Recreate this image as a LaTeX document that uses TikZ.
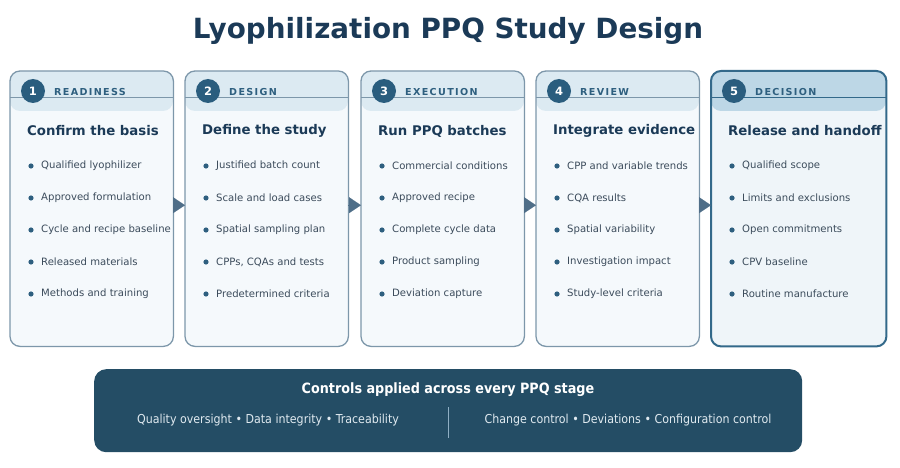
\documentclass[tikz,border=0pt]{standalone}
\usepackage{fontspec}
\setmainfont{DejaVu Sans}
\newfontfamily\condensed{DejaVu Sans Condensed}
\newfontfamily\spaced[LetterSpace=14]{DejaVu Sans}
\usetikzlibrary{calc,positioning,arrows.meta}
\definecolor{navy}{HTML}{1B3A57}
\definecolor{cardline}{HTML}{7D97AA}
\definecolor{cardfill}{HTML}{F5F9FC}
\definecolor{headfill}{HTML}{DCEAF2}
\definecolor{keyline}{HTML}{33698A}
\definecolor{keyfill}{HTML}{EFF5F9}
\definecolor{keyhead}{HTML}{BDD7E6}
\definecolor{numfill}{HTML}{2A5D7E}
\definecolor{labelc}{HTML}{2E5F7F}
\definecolor{itemc}{HTML}{3B4B5B}
\definecolor{arrowc}{HTML}{4F6E88}
\definecolor{panel}{HTML}{244D65}
\definecolor{panelsub}{HTML}{E0EAF0}
\definecolor{divider}{HTML}{8FAFC4}
\tikzset{
  card/.style={anchor=north west, minimum height=275pt, inner sep=0pt, rounded corners=10pt},
  flow/.style={-{Triangle[length=12pt,width=16pt]}, arrowc, line width=0.1pt},
  heading/.style={anchor=west, inner sep=0pt, font=\bfseries\fontsize{13.3}{15}\selectfont, text=navy},
  item/.style={anchor=west, inner sep=0pt, font=\fontsize{10.1}{12}\selectfont, text=itemc}
}
% #1 number, #2 left x, #3 width, #4 fill, #5 header fill, #6 line colour, #7 line width, #8 label, #9 heading
\newcommand{\stagecard}[9]{
  \node[card, fill=#4, minimum width=#3pt] (card#1) at (#2,71) {};
  \fill[#5, rounded corners=10pt] (card#1.north west) rectangle ++(#3,40);
  \draw[#6, line width=1pt] ($(card#1.north west)+(0,27)$) -- ++(#3,0);
  \draw[#6, line width=#7, rounded corners=10pt] (card#1.north west) rectangle (card#1.south east);
  \node[circle, fill=numfill, minimum size=24pt, inner sep=0pt, text=white,
        font=\bfseries\fontsize{11.5}{12}\selectfont] (num#1) at ($(card#1.north west)+(23,20)$) {#1};
  \node[anchor=west, inner sep=0pt, text=labelc, font=\spaced\bfseries\fontsize{9.6}{11}\selectfont]
        (label#1) at ($(card#1.north west)+(44,21)$) {#8};
  \node[heading] (title#1) at ($(card#1.north west)+(17,60)$) {#9};
}
\newcommand{\stageitems}[2]{
  \foreach \b [count=\i] in {#2} {
    \fill[labelc] ($(card#1.north west)+(21,63+32*\i)$) circle (2.6pt);
    \node[item] (item#1-\i) at ($(card#1.north west)+(31,63+32*\i)$) {\b};
  }
}
\begin{document}
\begin{tikzpicture}[x=1pt, y=-1pt]
\useasboundingbox (0,0) rectangle (900,468);
\node[font=\bfseries\fontsize{27.8}{30}\selectfont, text=navy] (heading) at (448,31) {Lyophilization PPQ Study Design};

\stagecard{1}{10}{163}{cardfill}{headfill}{cardline}{1.3pt}{READINESS}{Confirm the basis}
\stageitems{1}{Qualified lyophilizer, Approved formulation, Cycle and recipe baseline, Released materials, Methods and training}
\stagecard{2}{185}{163}{cardfill}{headfill}{cardline}{1.3pt}{DESIGN}{Define the study}
\stageitems{2}{Justified batch count, Scale and load cases, Spatial sampling plan, {CPPs, CQAs and tests}, Predetermined criteria}
\stagecard{3}{361}{163}{cardfill}{headfill}{cardline}{1.3pt}{EXECUTION}{Run PPQ batches}
\stageitems{3}{Commercial conditions, Approved recipe, Complete cycle data, Product sampling, Deviation capture}
\stagecard{4}{536}{163}{cardfill}{headfill}{cardline}{1.3pt}{REVIEW}{Integrate evidence}
\stageitems{4}{CPP and variable trends, CQA results, Spatial variability, Investigation impact, Study-level criteria}
\stagecard{5}{711}{175}{keyfill}{keyhead}{keyline}{2pt}{DECISION}{Release and handoff}
\stageitems{5}{Qualified scope, Limits and exclusions, Open commitments, CPV baseline, Routine manufacture}

% flow between stages
\draw[flow] ([yshift=3.5pt]card1.east) -- ([yshift=3.5pt]card2.west);
\draw[flow] ([yshift=3.5pt]card2.east) -- ([yshift=3.5pt]card3.west);
\draw[flow] ([yshift=3.5pt]card3.east) -- ([yshift=3.5pt]card4.west);
\draw[flow] ([yshift=3.5pt]card4.east) -- ([yshift=3.5pt]card5.west);

% controls panel
\node[anchor=north west, fill=panel, rounded corners=12pt, minimum width=708pt, minimum height=83pt] (controls) at (94,369) {};
\node[text=white, font=\condensed\bfseries\fontsize{14.2}{16}\selectfont] (controlstitle) at (448,390) {Controls applied across every PPQ stage};
\node[text=panelsub, font=\condensed\fontsize{12.3}{14}\selectfont] (leftcontrols) at (268,420) {Quality oversight • Data integrity • Traceability};
\node[text=panelsub, font=\condensed\fontsize{12.3}{14}\selectfont] (rightcontrols) at (628,420) {Change control • Deviations • Configuration control};
\draw[divider, line width=1pt] (448,407) -- (448,438);
\end{tikzpicture}
\end{document}
